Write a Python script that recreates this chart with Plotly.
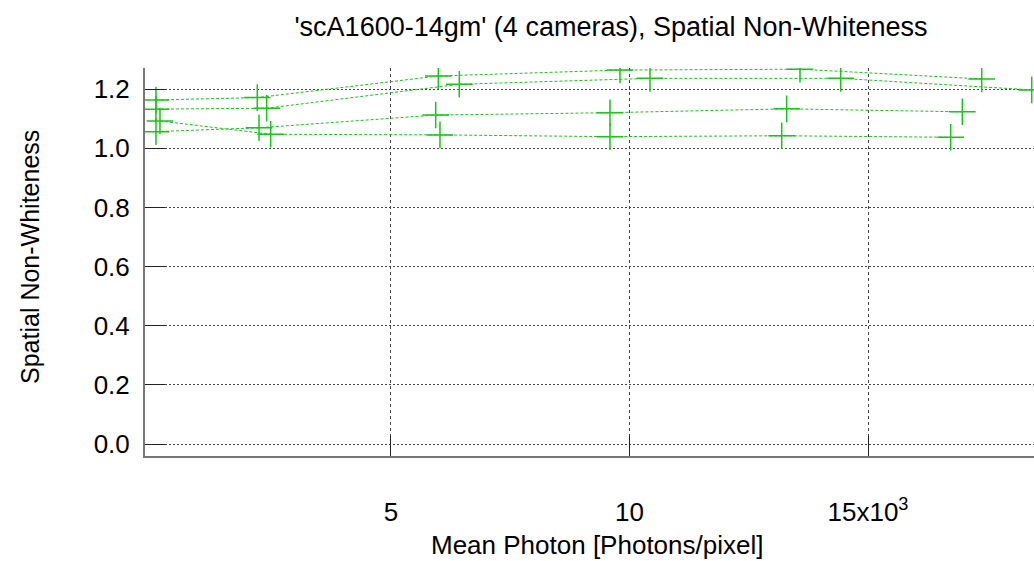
import plotly.graph_objects as go

# Data (Mean photon [photons/pixel], spatial non-whiteness), one list per camera
cam1_x = [73, 2197, 5992, 9801, 13574, 17384]
cam1_y = [1.163, 1.171, 1.244, 1.264, 1.267, 1.234]
cam2_x = [73, 2394, 6432, 10430, 14428, 18432]
cam2_y = [1.132, 1.135, 1.216, 1.236, 1.236, 1.197]
cam3_x = [157, 2478, 6027, 9591, 13191, 16734]
cam3_y = [1.092, 1.047, 1.045, 1.039, 1.042, 1.037]
cam4_x = [73, 2233, 5937, 9591, 13296, 16977]
cam4_y = [1.056, 1.069, 1.112, 1.120, 1.133, 1.123]

x_tickvals = [5000, 10000, 15000]
x_ticktext = ["5", "10", "15x10<sup>3</sup>"]
y_tickvals = [0.0, 0.2, 0.4, 0.6, 0.8, 1.0, 1.2]

title_text = "'scA1600-14gm' (4 cameras), Spatial Non-Whiteness"
x_title = "Mean Photon [Photons/pixel]"
y_title = "Spatial Non-Whiteness"

GREEN = "rgb(20,200,20)"
FONT = "Liberation Sans, Arial, sans-serif"

fig = go.Figure()
for xs, ys in [(cam1_x, cam1_y), (cam2_x, cam2_y), (cam3_x, cam3_y), (cam4_x, cam4_y)]:
    fig.add_trace(go.Scatter(
        x=xs, y=ys, mode="lines+markers",
        line=dict(color=GREEN, width=1, dash="3px,2px"),
        marker=dict(symbol="cross-thin", size=19, line=dict(color=GREEN, width=1.5)),
        showlegend=False,
    ))

fig.update_layout(
    width=1034, height=561,
    margin=dict(l=145, r=0, t=68, b=105, autoexpand=False),
    plot_bgcolor="white", paper_bgcolor="white",
    font=dict(family=FONT, color="black", size=26),
    title=dict(text=title_text, x=611/1034, xanchor="center", xref="container",
               y=1-27/561, yanchor="middle", yref="container",
               font=dict(size=27, family=FONT, color="black")),
    annotations=[
        dict(text=x_title, xref="paper", yref="paper", x=(597-145)/889, y=-(545-456)/388,
             xanchor="center", yanchor="middle", showarrow=False,
             font=dict(size=26, family=FONT, color="black")),
        dict(text=y_title, xref="paper", yref="paper", x=-(145-30)/889, y=(456-257)/388,
             xanchor="center", yanchor="middle", showarrow=False, textangle=-90,
             font=dict(size=25, family=FONT, color="black")),
    ],
)

fig.update_xaxes(
    range=[-157, 18480], tickvals=x_tickvals, ticktext=x_ticktext,
    ticks="inside", ticklen=20, tickcolor="#222", tickwidth=1,
    showline=True, linecolor="#777", linewidth=2,
    showgrid=True, gridcolor="#444", gridwidth=1, griddash="3px,3px",
    zeroline=False, ticklabelstandoff=32, automargin=False,
    tickfont=dict(size=26, family=FONT, color="black"),
)
fig.update_yaxes(
    range=[-0.04, 1.271], tickvals=y_tickvals, tickformat=".1f",
    ticks="inside", ticklen=20, tickcolor="#222", tickwidth=1,
    showline=True, linecolor="#777", linewidth=2,
    showgrid=True, gridcolor="#444", gridwidth=1, griddash="2px,2px",
    zeroline=False, ticklabelstandoff=8, automargin=False,
    tickfont=dict(size=26, family=FONT, color="black"),
)

fig.write_html("out.html", config={"displayModeBar": False},
               post_script="document.body.style.margin='0';")
